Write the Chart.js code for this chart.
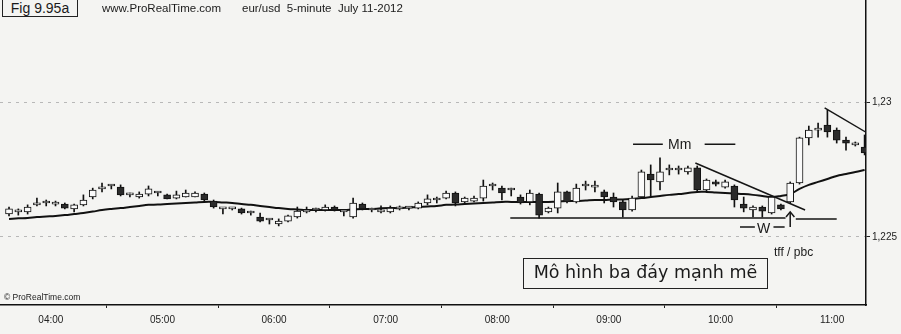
<!DOCTYPE html>
<html>
<head>
<meta charset="utf-8">
<script src="https://cdn.jsdelivr.net/npm/chart.js@4.4.1/dist/chart.umd.min.js"></script>
<style>
  html,body{margin:0;padding:0;background:#f4f4f2;}
  #wrap{position:relative;width:901px;height:334px;overflow:hidden;background:#f4f4f2;}
  canvas{position:absolute;left:0;top:0;}
  .t{position:absolute;font-family:"Liberation Sans",Arial,sans-serif;color:#1a1a1a;white-space:nowrap;line-height:1;}
  #fig{left:2px;top:-1px;width:76px;height:18px;border:1px solid #222;font-size:14px;box-sizing:border-box;text-align:center;line-height:16px;background:#f4f4f2;}
  #site{left:102px;top:3px;font-size:11.5px;}
  #pair{left:242px;top:3px;font-size:11.5px;}
  #copy{left:4px;top:293px;font-size:8.5px;}
  #box{left:523px;top:258px;width:245px;height:31px;border:1.5px solid #222;box-sizing:border-box;font-family:"DejaVu Sans",sans-serif;font-size:17.5px;text-align:center;line-height:27px;}
  #tff{left:774px;top:246px;font-size:12px;}
  #mm{left:668px;top:137px;font-size:14px;}
  #w{left:757px;top:221px;font-size:14px;}
</style>
</head>
<body>
<div id="wrap">
  <canvas id="c" width="901" height="334"></canvas>
  <div class="t" id="fig">Fig 9.95a</div>
  <div class="t" id="site">www.ProRealTime.com</div>
  <div class="t" id="pair">eur/usd&nbsp; 5-minute&nbsp; July 11-2012</div>
  <div class="t" id="copy">© ProRealTime.com</div>
  <div class="t" id="box">Mô hình ba đáy mạnh mẽ</div>
  <div class="t" id="tff">tff / pbc</div>
  <div class="t" id="mm">Mm</div>
  <div class="t" id="w">W</div>
</div>
<script>
// ---- data (eur/usd 5-minute, July 11 2012) ----
const startTime = "03:35";
const hourLabels = ["04:00","05:00","06:00","07:00","08:00","09:00","10:00","11:00"];
const priceTicks = [1.225, 1.23];
const priceTickLabels = ["1,225", "1,23"];

const openP = [1.22585,1.22593,1.22593,1.22619,1.22626,1.22622,1.22622,1.22604,1.22619,1.22648,
1.22678,1.22689,1.22685,1.22656,1.22648,1.22659,1.22663,1.22656,1.22644,1.22648,
1.22648,1.22659,1.22633,1.22604,1.22604,1.22604,1.22589,1.22574,1.22563,1.22548,
1.22559,1.22574,1.22593,1.22600,1.22600,1.22611,1.22593,1.22574,1.22622,1.22600,
1.22593,1.22593,1.22604,1.22607,1.22607,1.22626,1.22637,1.22644,1.22663,1.22630,
1.22633,1.22644,1.22689,1.22681,1.22674,1.22648,1.22630,1.22659,1.22593,1.22607,
1.22667,1.22630,1.22689,1.22685,1.22667,1.22648,1.22630,1.22600,1.22648,1.22733,
1.22704,1.22748,1.22748,1.22741,1.22756,1.22674,1.22704,1.22685,1.22689,1.22622,
1.22600,1.22611,1.22589,1.22619,1.22630,1.22700,1.22867,1.22896,1.22915,1.22896,
1.22859,1.22841,1.22833];
const highP = [1.22611,1.22604,1.22619,1.22644,1.22637,1.22633,1.22626,1.22622,1.22656,1.22681,
1.22700,1.22693,1.22693,1.22663,1.22667,1.22689,1.22667,1.22659,1.22670,1.22674,
1.22667,1.22663,1.22637,1.22607,1.22607,1.22607,1.22596,1.22589,1.22567,1.22567,
1.22581,1.22611,1.22611,1.22607,1.22619,1.22615,1.22596,1.22644,1.22626,1.22607,
1.22615,1.22615,1.22615,1.22611,1.22630,1.22656,1.22648,1.22670,1.22667,1.22648,
1.22652,1.22711,1.22700,1.22689,1.22681,1.22656,1.22674,1.22663,1.22611,1.22700,
1.22670,1.22696,1.22707,1.22707,1.22674,1.22663,1.22637,1.22652,1.22748,1.22767,
1.22793,1.22767,1.22763,1.22763,1.22763,1.22715,1.22711,1.22711,1.22693,1.22648,
1.22615,1.22615,1.22652,1.22622,1.22704,1.22870,1.22911,1.22922,1.22970,1.22904,
1.22870,1.22852,1.22878];
const lowP = [1.22578,1.22581,1.22585,1.22615,1.22615,1.22615,1.22604,1.22593,1.22615,1.22641,
1.22667,1.22678,1.22652,1.22648,1.22644,1.22652,1.22652,1.22641,1.22641,1.22648,
1.22648,1.22633,1.22607,1.22585,1.22600,1.22585,1.22581,1.22556,1.22548,1.22541,
1.22556,1.22570,1.22589,1.22593,1.22596,1.22596,1.22578,1.22570,1.22600,1.22593,
1.22589,1.22589,1.22600,1.22600,1.22604,1.22619,1.22626,1.22641,1.22615,1.22626,
1.22630,1.22633,1.22674,1.22637,1.22652,1.22622,1.22619,1.22570,1.22589,1.22589,
1.22626,1.22626,1.22674,1.22667,1.22626,1.22611,1.22574,1.22596,1.22644,1.22648,
1.22674,1.22730,1.22733,1.22733,1.22667,1.22670,1.22689,1.22681,1.22611,1.22593,
1.22574,1.22574,1.22585,1.22600,1.22626,1.22696,1.22841,1.22870,1.22870,1.22848,
1.22822,1.22837,1.22804];
const closeP = [1.22604,1.22596,1.22611,1.22626,1.22626,1.22622,1.22607,1.22619,1.22637,1.22674,
1.22681,1.22689,1.22656,1.22656,1.22659,1.22678,1.22663,1.22641,1.22656,1.22663,
1.22663,1.22637,1.22611,1.22604,1.22604,1.22589,1.22589,1.22559,1.22563,1.22559,
1.22578,1.22596,1.22600,1.22600,1.22611,1.22600,1.22593,1.22626,1.22604,1.22600,
1.22600,1.22607,1.22611,1.22607,1.22626,1.22641,1.22637,1.22663,1.22626,1.22644,
1.22644,1.22689,1.22689,1.22663,1.22674,1.22626,1.22663,1.22581,1.22607,1.22667,
1.22630,1.22681,1.22689,1.22685,1.22648,1.22630,1.22600,1.22644,1.22741,1.22711,
1.22741,1.22748,1.22748,1.22756,1.22674,1.22711,1.22696,1.22704,1.22637,1.22607,
1.22611,1.22596,1.22648,1.22604,1.22700,1.22867,1.22896,1.22896,1.22889,1.22859,
1.22848,1.22848,1.22811];
const movingAvg = [1.22567,1.22569,1.22570,1.22574,1.22576,1.22578,1.22581,1.22585,1.22589,1.22594,
1.22600,1.22604,1.22607,1.22611,1.22615,1.22619,1.22620,1.22622,1.22624,1.22626,
1.22628,1.22630,1.22630,1.22628,1.22626,1.22622,1.22619,1.22615,1.22611,1.22607,
1.22604,1.22602,1.22600,1.22600,1.22600,1.22600,1.22600,1.22602,1.22604,1.22604,
1.22606,1.22607,1.22607,1.22609,1.22611,1.22613,1.22615,1.22619,1.22620,1.22622,
1.22624,1.22626,1.22628,1.22630,1.22630,1.22630,1.22630,1.22630,1.22630,1.22631,
1.22633,1.22633,1.22635,1.22637,1.22637,1.22639,1.22639,1.22641,1.22644,1.22648,
1.22652,1.22656,1.22659,1.22663,1.22667,1.22667,1.22665,1.22663,1.22661,1.22659,
1.22656,1.22652,1.22648,1.22652,1.22659,1.22678,1.22693,1.22704,1.22715,1.22726,
1.22733,1.22741,1.22748];

// annotation levels (bar index, price)
const supportLine = [[53.9,1.22570],[83.5,1.22570],[83.6,null],[84.6,1.22567],[89.0,1.22567]];
const trendLine1 = [[73.8,1.22774],[85.6,1.22600]];
const trendLine2 = [[87.7,1.22978],[92.3,1.22885]];
const mmDashes = [[67.1,1.22844],[70.3,1.22844],[70.4,null],[74.8,1.22844],[78.1,1.22844]];
const wDashes = [[78.6,1.22537],[80.2,1.22537],[80.3,null],[82.2,1.22537],[83.4,1.22537]];
const arrowUp = [[84.0,1.22537],[84.0,1.22593]];
const arrowHead = [[83.55,1.22574],[84.0,1.22593],[84.45,1.22574]];

// ---- build ----
function addMin(t, m){const [h,mm]=t.split(':').map(Number);const v=h*60+mm+m;return String(Math.floor(v/60)).padStart(2,'0')+':'+String(v%60).padStart(2,'0');}
const times = openP.map((_,i)=>addMin(startTime, 5*i));
const hourTickPos = hourLabels.map(h => times.indexOf(h) - 0.5);

const idx = openP.map((_,i)=>i);
const bodies = idx.map(i=>({x:i, y:[Math.min(openP[i],closeP[i]), Math.max(openP[i],closeP[i])]}));
const wicks = idx.map(i=>({x:i, y:[lowP[i], highP[i]]}));
const bodyColors = idx.map(i=> closeP[i] < openP[i] ? '#2b2b2b' : '#fafafa');
const pts = a => a.map(p=>({x:p[0], y:p[1]}));
const annot = (data, w) => ({type:'line', data: pts(data), borderColor:'#151515', borderWidth: w||1.5, pointRadius:0, spanGaps:false, order:-1, tension:0});

new Chart(document.getElementById('c'), {
  type: 'bar',
  data: {
    datasets: [
      {type:'bar', data: bodies, backgroundColor: bodyColors, borderColor:'#111', borderWidth:1, borderSkipped:false, barThickness:7, grouped:false, minBarLength:2, order:0},
      {type:'bar', data: wicks, backgroundColor:'#111', borderWidth:0, barThickness:1, grouped:false, order:1},
      {type:'line', data: idx.map(i=>({x:i,y:movingAvg[i]})), borderColor:'#111', borderWidth:2, pointRadius:0, tension:0.4, order:2},
      annot(supportLine), annot(trendLine1), annot(trendLine2), annot(mmDashes), annot(wDashes), annot(arrowUp), annot(arrowHead)
    ]
  },
  options: {
    responsive:false, animation:false, devicePixelRatio:1,
    layout:{padding:0},
    plugins:{legend:{display:false}, tooltip:{enabled:false}, title:{display:false}},
    scales:{
      x:{type:'linear', min:-0.97, max:92.15, offset:false,
         afterBuildTicks: s => { s.ticks = hourTickPos.map(v=>({value:v})); },
         afterFit: s => { s.height = 29; s.paddingLeft = 0; s.paddingRight = 0; },
         ticks:{callback:(v,i)=>hourLabels[i], color:'#222', font:{family:'"Liberation Sans Narrow","Liberation Sans",Arial,sans-serif', size:10}, maxRotation:0, autoSkip:false, padding:6},
         grid:{drawOnChartArea:false, tickLength:3, color:'#222'},
         border:{display:true, color:'#111', width:1.5}},
      y:{type:'linear', position:'right', min:1.22248, max:1.23378,
         afterBuildTicks: s => { s.ticks = priceTicks.map(v=>({value:v})); },
         afterFit: s => { s.width = 35; s.paddingTop = 0; s.paddingBottom = 0; },
         ticks:{callback:(v,i)=>priceTickLabels[i], color:'#222', font:{family:'"Liberation Sans Narrow","Liberation Sans",Arial,sans-serif', size:10}, padding:2},
         grid:{drawOnChartArea:true, color:'#b8b8b8', tickLength:4, tickColor:'#222', tickBorderDash:[]},
         border:{display:true, color:'#111', width:1.5, dash:[3,5]}}
    }
  }
});
</script>
</body>
</html>
